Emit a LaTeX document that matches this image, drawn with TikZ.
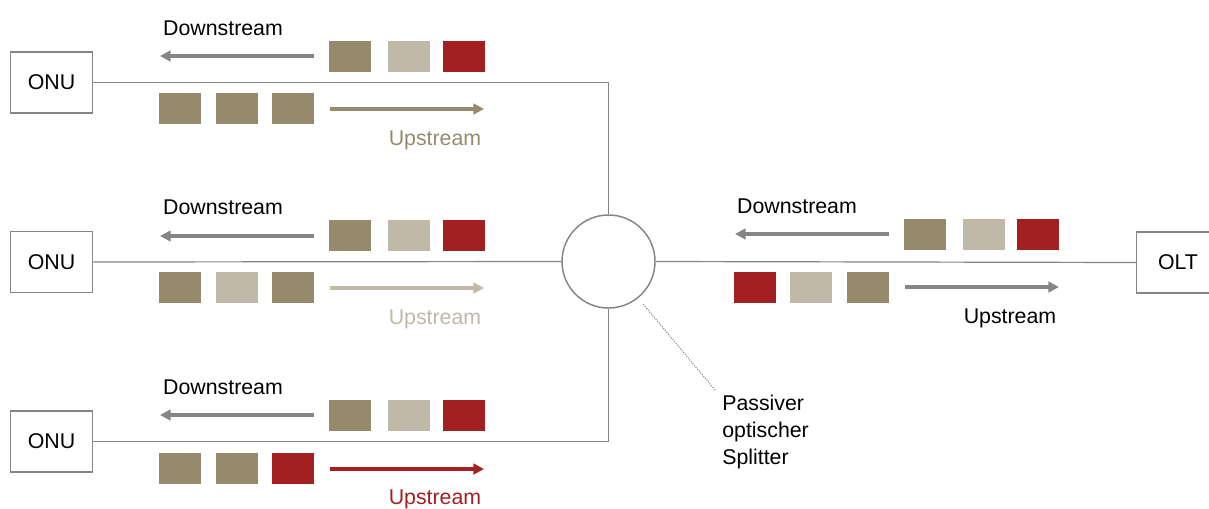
\documentclass[tikz,border=0pt]{standalone}
\usepackage{fontspec}
\setmainfont{Liberation Sans}
\usetikzlibrary{arrows.meta}
\definecolor{tdark}{HTML}{968A6C}
\definecolor{tlight}{HTML}{C1B9A7}
\definecolor{tred}{HTML}{A32022}
\definecolor{lgray}{HTML}{858585}
\begin{document}
\begin{tikzpicture}[x=0.75pt,y=-0.75pt,
  every node/.style={font=\fontsize{16}{20}\selectfont},
  boxnode/.style={draw=lgray,line width=0.9pt,minimum width=62pt,minimum height=45.75pt,inner sep=0pt},
  splitnode/.style={circle,draw=lgray,line width=1.1pt,minimum size=69.75pt,inner sep=0pt},
  sq/.style={anchor=north west,minimum width=31.5pt,minimum height=23.25pt,inner sep=0pt},
  wire/.style={draw=lgray,line width=0.9pt},
  flow/.style={line width=2.7pt,-{Triangle[length=8pt,width=8pt]}},
  lbl/.style={inner sep=0pt}]
\useasboundingbox (0,0) rectangle (1209,508);
% devices
\node[boxnode] (onu1) at (51.5,82.5) {ONU};
\node[boxnode] (onu2) at (51.5,262) {ONU};
\node[boxnode] (onu3) at (51.5,441.5) {ONU};
\node[boxnode] (olt) at (1178,262.5) {OLT};
\node[splitnode] (spl) at (608.5,261.5) {};
% wires
\draw[wire] (onu1.east) -| (spl.north);
\draw[wire] (onu2.east) -- (spl.west);
\draw[wire] (onu3.east) -| (spl.south);
\draw[wire] (spl.east) -- (olt.west);
% splitter label
\coordinate (dend) at (715,390);
\draw[lgray,densely dotted,line width=0.8pt,shorten <=6pt] (spl.-51) -- (dend);
\node[lbl,anchor=west,align=left] (spltxt) at (722,432) {Passiver\\optischer\\Splitter};
% ---- row 1
\node[lbl] (d1t) at (223,28) {Downstream};
\coordinate (d1a) at (314,56); \coordinate (d1b) at (160,56);
\draw[flow,lgray] (d1a) -- (d1b);
\node[sq,fill=tdark] (s1a) at (329,41) {};
\node[sq,fill=tlight] (s1b) at (388,41) {};
\node[sq,fill=tred] (s1c) at (443,41) {};
\node[sq,fill=tdark] (u1a) at (159,93) {};
\node[sq,fill=tdark] (u1b) at (216,93) {};
\node[sq,fill=tdark] (u1c) at (272,93) {};
\coordinate (u1s) at (330,109); \coordinate (u1e) at (484,109);
\draw[flow,tdark] (u1s) -- (u1e);
\node[lbl,text=tdark] (u1t) at (435,140) {Upstream};
% ---- row 2
\node[lbl] (d2t) at (223,207) {Downstream};
\coordinate (d2a) at (314,236); \coordinate (d2b) at (160,236);
\draw[flow,lgray] (d2a) -- (d2b);
\node[sq,fill=tdark] (s2a) at (329,220) {};
\node[sq,fill=tlight] (s2b) at (388,220) {};
\node[sq,fill=tred] (s2c) at (443,220) {};
\node[sq,fill=tdark] (u2a) at (159,272) {};
\node[sq,fill=tlight] (u2b) at (216,272) {};
\node[sq,fill=tdark] (u2c) at (272,272) {};
\coordinate (u2s) at (330,288); \coordinate (u2e) at (484,288);
\draw[flow,tlight] (u2s) -- (u2e);
\node[lbl,text=tlight] (u2t) at (435,319) {Upstream};
% ---- row 3
\node[lbl] (d3t) at (223,387) {Downstream};
\coordinate (d3a) at (314,415); \coordinate (d3b) at (160,415);
\draw[flow,lgray] (d3a) -- (d3b);
\node[sq,fill=tdark] (s3a) at (329,400) {};
\node[sq,fill=tlight] (s3b) at (388,400) {};
\node[sq,fill=tred] (s3c) at (443,400) {};
\node[sq,fill=tdark] (u3a) at (159,453) {};
\node[sq,fill=tdark] (u3b) at (216,453) {};
\node[sq,fill=tred] (u3c) at (272,453) {};
\coordinate (u3s) at (330,469); \coordinate (u3e) at (484,469);
\draw[flow,tred] (u3s) -- (u3e);
\node[lbl,text=tred] (u3t) at (435,499) {Upstream};
% ---- OLT side
\node[lbl] (d4t) at (797,206) {Downstream};
\coordinate (d4a) at (889,234); \coordinate (d4b) at (735,234);
\draw[flow,lgray] (d4a) -- (d4b);
\node[sq,fill=tdark] (s4a) at (904,219) {};
\node[sq,fill=tlight] (s4b) at (963,219) {};
\node[sq,fill=tred] (s4c) at (1017,219) {};
\node[sq,fill=tred] (u4a) at (734,272) {};
\node[sq,fill=tlight] (u4b) at (790,272) {};
\node[sq,fill=tdark] (u4c) at (847,272) {};
\coordinate (u4s) at (905,287); \coordinate (u4e) at (1059,287);
\draw[flow,lgray] (u4s) -- (u4e);
\node[lbl] (u4t) at (1010,318) {Upstream};
\end{tikzpicture}
\end{document}
